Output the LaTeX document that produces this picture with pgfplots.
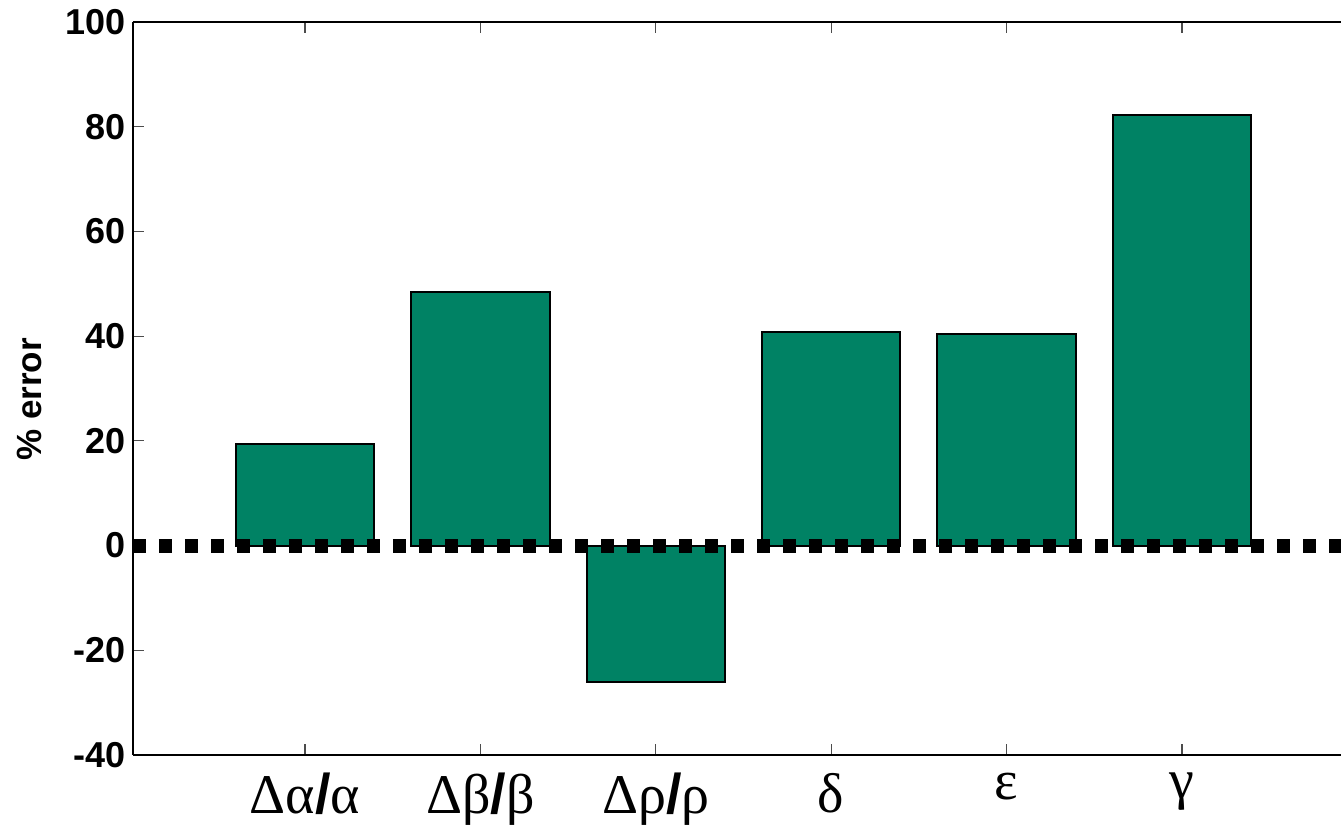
\documentclass[border=0pt]{standalone}
\usepackage{pgfplots}
\pgfplotsset{compat=1.18}
\usepackage{fontspec}
\setmainfont{Liberation Sans}
\newfontfamily\grk{Liberation Serif}
\definecolor{barcol}{RGB}{0,130,100}
\begin{document}
\begin{tikzpicture}
\begin{axis}[
  scale only axis, width=604pt, height=366.5pt,
  xmin=0.019, xmax=6.907, ymin=-40, ymax=100,
  axis x line*=box, axis y line*=left,
  xtick={1,2,3,4,5,6},
  xticklabels={{\grk Δα}{\bfseries/}{\grk α}, {\grk Δβ}{\bfseries/}{\grk β}, {\grk Δρ}{\bfseries/}{\grk ρ}, {\grk δ}, {\grk ε}, {\grk γ}},
  ytick={-40,-20,0,20,40,60,80,100},
  tick align=inside, major tick length=5.5pt,
  tick style={line width=0.6pt, color=black!70},
  axis line style={line width=1pt},
  /pgf/number format/assume math mode=true,
  yticklabel style={font=\fontsize{18}{20}\selectfont\bfseries},
  xticklabel style={font=\fontsize{28}{30}\selectfont, yshift=-5.5pt},
  ylabel={\% error},
  ylabel style={font=\fontsize{17.5}{20}\selectfont\bfseries, at={(axis description cs:-0.0853,0.485)}, anchor=center},
]
\addplot[ybar, bar width=0.79, fill=barcol, draw=black, line width=1pt]
  coordinates {(1,19.4) (2,48.4) (3,-26.0) (4,40.8) (5,40.4) (6,82.2)};
\addplot[black, line width=7pt, dash pattern=on 6.5pt off 6.5pt, no markers]
  coordinates {(0.019,0) (6.907,0)};
\end{axis}
\pgfresetboundingbox
\path[use as bounding box] ([xshift=-66.5pt,yshift=-38.5pt]current axis.south west) rectangle ([yshift=11pt]current axis.north east);
\end{tikzpicture}
\end{document}
